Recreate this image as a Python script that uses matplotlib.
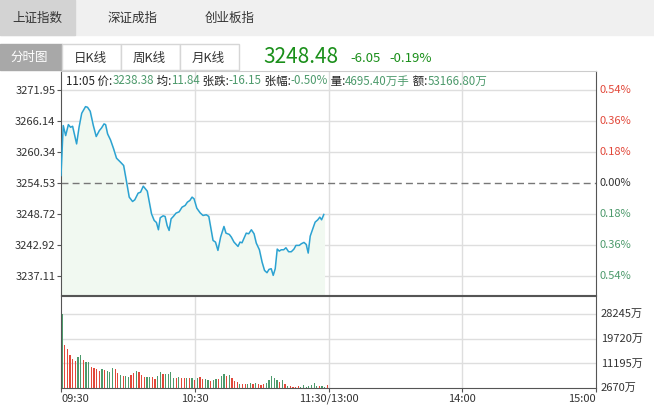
import matplotlib
matplotlib.use("Agg")
import matplotlib.pyplot as plt
import numpy as np
from matplotlib.patches import Rectangle

plt.rcParams['font.family'] = ['Noto Sans CJK SC', 'DejaVu Sans']

price_pts = [
(0,3255.90),(1.0,3265.27),(2.1,3263.39),(3.3,3265.45),(4.3,3264.95),(5.2,3265.14),(7.0,3261.83),(8.1,3264.95),(9.3,3267.58),(11.0,3268.82),
(11.9,3268.70),(13.1,3267.95),(14.5,3265.27),(15.8,3263.21),(17.2,3264.33),(18.2,3264.83),(19.3,3265.58),(20.0,3265.45),(20.9,3263.71),(22.2,3262.58),
(23.6,3260.90),(24.9,3259.15),(26.7,3258.40),(28.1,3257.78),(29.3,3254.97),(30.6,3251.85),(32.1,3251.03),(33.1,3251.35),(34.6,3252.60),(35.7,3252.78),
(36.9,3253.91),(38.7,3252.97),(40.6,3248.73),(41.8,3247.48),(42.8,3247.10),(43.7,3245.73),(44.5,3247.98),(45.8,3248.35),(46.7,3248.23),(47.6,3246.54),
(48.5,3245.60),(49.4,3247.79),(50.4,3248.23),(51.6,3248.85),(53.0,3249.10),(54.3,3249.97),(55.7,3250.29),(56.7,3250.91),(57.8,3251.22),(58.8,3251.85),
(59.7,3251.53),(60.9,3249.79),(62.4,3248.91),(63.7,3248.41),(65.2,3248.54),(66.3,3248.23),(68.2,3243.73),(69.3,3243.42),(70.4,3241.86),(71.6,3244.36),
(73.1,3246.35),(74.0,3245.10),(75.5,3244.86),(76.4,3244.36),(77.6,3243.42),(79.4,3242.61),(80.3,3243.42),(81.2,3243.29),(83.1,3245.10),(84.2,3244.98),
(85.4,3245.73),(86.6,3244.98),(87.6,3243.23),(89.0,3241.98),(90.2,3239.67),(91.3,3238.11),(92.4,3237.68),(93.3,3238.30),(94.3,3238.43),(95.2,3237.18),
(96.1,3238.43),(97.0,3242.11),(97.9,3241.73),(98.8,3241.98),(99.9,3241.98),(100.9,3242.36),(102.1,3241.61),(103.3,3241.61),(104.5,3242.11),(105.4,3242.80),
(106.9,3242.80),(107.8,3243.11),(109.0,3243.36),(110.0,3242.98),(110.9,3241.36),(111.8,3244.54),(113.0,3245.98),(114.0,3247.16),(115.2,3247.60),(116.1,3248.10),
(116.9,3247.60),(117.9,3248.60)]
minutes = [p[0] for p in price_pts]
prices = [p[1] for p in price_pts]

vol = [28245,17600,16200,14000,12800,12200,13300,14200,12500,11700,11700,10000,9600,9200,8600,9300,8900,8400,8200,9700,
       9300,8000,7200,6700,6700,6500,7100,7900,8500,8200,7200,6600,6400,6400,6600,5800,7000,8100,7600,7600,
       7600,8100,6100,6300,6600,6000,6200,6000,6000,6300,5600,6200,6400,5800,5700,5500,5100,5400,5800,5700,
       7000,7500,6900,7300,6100,5000,4800,4200,4000,4200,4100,4300,4000,4300,4100,3800,4000,4500,5600,7000,
       6200,5600,4700,5300,4200,3300,3400,3100,2900,3200,3000,3800,3100,3300,3700,4300,3400,3300,3400,3000,3700]
vol_up = "grrrrrggrggrrrrgrgggrrgrggrrgrrrggrrggrggggrgrrgrgrgrrggrggrggrgrrrgrrggrgrrrgggggrgrgrrrrgggggggrggrg"

base = 3254.53
left_ticks = [3271.95,3266.14,3260.34,3254.53,3248.72,3242.92,3237.11]
right_ticks = ["0.54%","0.36%","0.18%","0.00%","0.18%","0.36%","0.54%"]
vol_ticks = [28245,19720,11195,2670]
time_labels = ["09:30","10:30","11:30/13:00","14:00","15:00"]

W, H = 654, 411
fig = plt.figure(figsize=(W/100, H/100), dpi=100)
def fx(px): return px / W
def fy(py): return 1 - py / H

RED = "#e2483a"; GRN = "#4d9a6c"; GRID = "#dedede"; AX = "#555555"
fig.patches.append(Rectangle((0, fy(35)), 1, fy(0)-fy(35), transform=fig.transFigure, color="#f0f0f0", zorder=0))
fig.patches.append(Rectangle((0, fy(35)), fx(75), fy(0)-fy(35), transform=fig.transFigure, color="#d3d3d3", zorder=0))
for x, t in [(12, "上证指数"), (108, "深证成指"), (205, "创业板指")]:
    fig.text(fx(x), fy(18), t, fontsize=9, va="center", color="#333333")
fig.patches.append(Rectangle((0, fy(70)), fx(62), fy(44)-fy(70), transform=fig.transFigure, color="#a8a8a8"))
fig.text(fx(10), fy(57), "分时图", fontsize=9, va="center", color="white")
for i, t in enumerate(["日K线", "周K线", "月K线"]):
    x0 = 62 + i*59
    fig.patches.append(Rectangle((fx(x0), fy(70)), fx(59), fy(44)-fy(70), transform=fig.transFigure,
                                 facecolor="white", edgecolor="#d6d6d6", lw=1))
    fig.text(fx(x0+12), fy(58), t, fontsize=9, va="center", color="#333333")
fig.text(fx(263), fy(57), "3248.48", fontsize=15, va="center", color="#1a8f1a")
fig.text(fx(350), fy(58), "-6.05", fontsize=9.5, va="center", color="#1a8f1a")
fig.text(fx(389), fy(58), "-0.19%", fontsize=9.5, va="center", color="#1a8f1a")

ymin, ymax = 3233.5, 3275.5
ax = fig.add_axes([fx(61), fy(295), fx(596-61), fy(71)-fy(295)])
ax.set_xlim(0, 240); ax.set_ylim(ymin, ymax)
ax.fill_between(minutes, prices, ymin, color="#f1f9f1", zorder=1)
ax.plot(minutes, prices, color="#2ba2d2", lw=1.1, zorder=3)
for v in left_ticks:
    if v != base:
        ax.axhline(v, color=GRID, lw=1, zorder=0)
ax.axhline(base, color="#777777", lw=1, ls=(0, (5, 3)), zorder=2)
for m in [60, 120, 180]:
    ax.axvline(m, color=GRID, lw=1, zorder=0)
ax.set_yticks(left_ticks)
ax.set_yticklabels([f"{v:.2f}" for v in left_ticks], fontsize=8, color="#333333")
ax.tick_params(axis="y", length=3, color=AX, pad=1)
ax.set_xticks([])
for s in ["left", "right"]:
    ax.spines[s].set_color(AX)
ax.spines["top"].set_color("#cccccc")
ax.spines["bottom"].set_color(AX)
for v, t in zip(left_ticks, right_ticks):
    fig.text(fx(600), ax.transData.transform((0, v))[1]/H, t, fontsize=8, va="center",
             color=RED if v > base else (GRN if v < base else "#333333"))

# header line, placed piece after piece
hdr = [("11:05 价:","#222222"),("3238.38",GRN),(" 均:","#222222"),("11.84",GRN),
       (" 张跌:","#222222"),("-16.15",GRN),(" 张幅:","#222222"),("-0.50%",GRN),
       (" 量:","#222222"),("4695.40万手",GRN),(" 额:","#222222"),("53166.80万",GRN)]
r = fig.canvas.get_renderer()
xp = 66
for t, c in hdr:
    tx = fig.text(fx(xp), fy(81), t, fontsize=8.3, va="center", color=c)
    xp += tx.get_window_extent(r).width

axv = fig.add_axes([fx(61), fy(388), fx(596-61), fy(296)-fy(388)])
axv.set_xlim(0, 240); axv.set_ylim(2670, 34600)
n = len(vol)
pos = np.arange(n) * (119.0 / (n - 1)) + 0.5
cols = [GRN if c == "g" else RED for c in vol_up]
axv.bar(pos, vol, width=0.55, bottom=0, color=cols, zorder=3)
for v in vol_ticks[:3]:
    axv.axhline(v, color=GRID, lw=1, zorder=0)
for m in [60, 120, 180]:
    axv.axvline(m, color=GRID, lw=1, zorder=0)
axv.set_yticks([])
for v in vol_ticks:
    fig.text(fx(601), axv.transData.transform((0, v))[1]/H, f"{v}万", fontsize=8, va="center", color="#333333")
axv.set_xticks([0, 60, 120, 180, 240])
axv.set_xticklabels(time_labels, fontsize=8, color="#333333")
lbls = axv.get_xticklabels()
lbls[0].set_ha("left"); lbls[-1].set_ha("right")
axv.tick_params(axis="x", length=3, color=AX, pad=1)
for s in ["left", "right", "bottom", "top"]:
    axv.spines[s].set_color(AX)

fig.savefig("out.png", dpi=100)
